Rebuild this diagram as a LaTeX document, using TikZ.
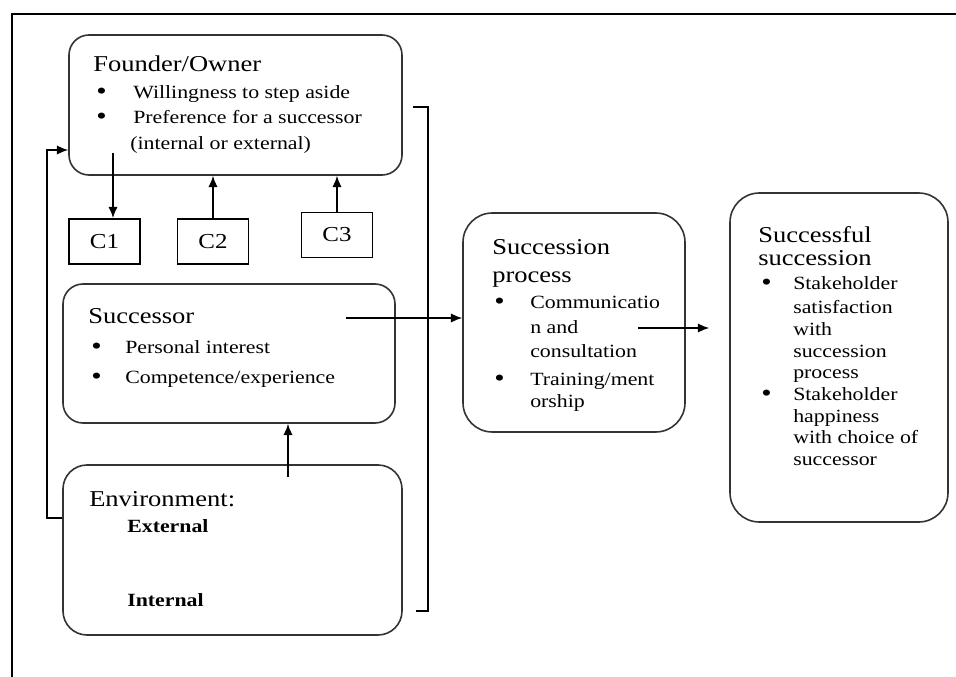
\documentclass[tikz,border=0pt]{standalone}
\usepackage{fontspec}
\setmainfont{Liberation Serif}[FakeStretch=1.17]
\usetikzlibrary{positioning,arrows.meta,calc}

\begin{document}
\begin{tikzpicture}[
    x=0.75pt, y=-0.75pt,
    block/.style={rectangle, draw=black!80, line width=1.2pt, rounded corners=15pt, inner sep=0pt},
    cbox/.style={rectangle, draw, line width=1.1pt, minimum width=53pt, minimum height=34pt, inner sep=0pt, font=\fontsize{16}{19}\selectfont},
    head/.style={anchor=base west, inner sep=0pt, font=\fontsize{17}{20}\selectfont},
    txt/.style={anchor=base west, inner sep=0pt, font=\fontsize{14}{17}\selectfont},
    dot/.style={anchor=base west, inner sep=0pt, font=\fontsize{19}{20}\selectfont},
    link/.style={-{Latex[length=8.5pt,width=7pt]}, line width=1.1pt}
]
\useasboundingbox (0,0) rectangle (956,677);

% page frame
\draw[line width=2pt] (12,677) -- (12,14) -- (956,14);

% Boxes
\node[block, minimum width=249.75pt, minimum height=105pt] (owner) at (235.5,105) {};
\node[block, minimum width=249pt, minimum height=104.25pt] (succ) at (229,353.5) {};
\node[block, minimum width=254.25pt, minimum height=127.5pt, rounded corners=18pt] (env) at (232.5,550) {};
\node[block, minimum width=166.5pt, minimum height=164.25pt, rounded corners=22pt] (proc) at (574,322.5) {};
\node[block, minimum width=163.5pt, minimum height=246.75pt, rounded corners=22pt] (goal) at (839,357.5) {};

\node[cbox] (c1) at (104.5,241.5) {C1};
\node[cbox] (c2) at (213,241.5) {C2};
\node[cbox] (c3) at (337,235) {C3};

% Founder/Owner
\node[head] (owner-t) at (93,72) {Founder/Owner};
\foreach \y/\t [count=\i] in {99/{Willingness to step aside}, 124/{Preference for a successor}} {
  \node[dot] (owner-d\i) at (96,\y+1) {\textbullet};
  \node[txt] (owner-i\i) at (133,\y) {\t};
}
\node[txt] (owner-i3) at (130,150) {(internal or external)};

% Successor
\node[head] (succ-t) at (88,323) {Successor};
\foreach \y/\t [count=\i] in {353/{Personal interest}, 383/{Competence/experience}} {
  \node[dot] (succ-d\i) at (91,\y+1) {\textbullet};
  \node[txt] (succ-i\i) at (125,\y) {\t};
}

% Environment
\node[head] (env-t) at (89,506) {Environment:};
\node[txt, font=\fontsize{14}{17}\selectfont\bfseries] (env-ext) at (127,532) {External};
\node[txt, font=\fontsize{14}{17}\selectfont\bfseries] (env-int) at (127,606) {Internal};

% Succession process
\node[head] (proc-t1) at (492,255) {Succession};
\node[head] (proc-t2) at (492,282) {process};
\node[dot] (proc-d1) at (494,309) {\textbullet};
\node[dot] (proc-d2) at (494,386) {\textbullet};
\foreach \y/\t [count=\i] in {308/Communicatio, 333/n and, 357/consultation, 385/{Training/ment}, 407/orship} {
  \node[txt] (proc-i\i) at (530,\y) {\t};
}

% Successful succession
\node[head] (goal-t1) at (758,243) {Successful};
\node[head] (goal-t2) at (758,266) {succession};
\node[dot] (goal-d1) at (761,291) {\textbullet};
\node[dot] (goal-d2) at (761,401) {\textbullet};
\foreach \y/\t [count=\i] in {290/Stakeholder, 313/satisfaction, 335/with, 357/succession, 378/process, 400/Stakeholder, 422/happiness, 443/with choice of, 465/successor} {
  \node[txt] (goal-i\i) at (793,\y) {\t};
}

% Arrows
\coordinate (o1) at (113,153);
\draw[link] (o1) -- (o1 |- c1.north);
\draw[link] (c2.north) -- (c2.north |- owner.south);
\draw[link] (c3.north) -- (c3.north |- owner.south);
\coordinate (e1) at (288,477);
\draw[link] (e1) -- (e1 |- succ.south);
\coordinate (fb) at (47,518);
\coordinate (fbtop) at (47,150);
\draw[link] (env.west |- fb) -- (fb) -- (fbtop) -- (fbtop -| owner.west);
\coordinate (s1) at (346,318);
\draw[link] (s1) -- (s1 -| proc.west);
\coordinate (p1) at (638,328);
\draw[link] (p1) -- ($(p1 -| goal.west)+(-20,0)$);

% bracket
\draw[line width=1.5pt] (413,107) -- (428,107) -- (428,611) -- (416,611);

\end{tikzpicture}
\end{document}
